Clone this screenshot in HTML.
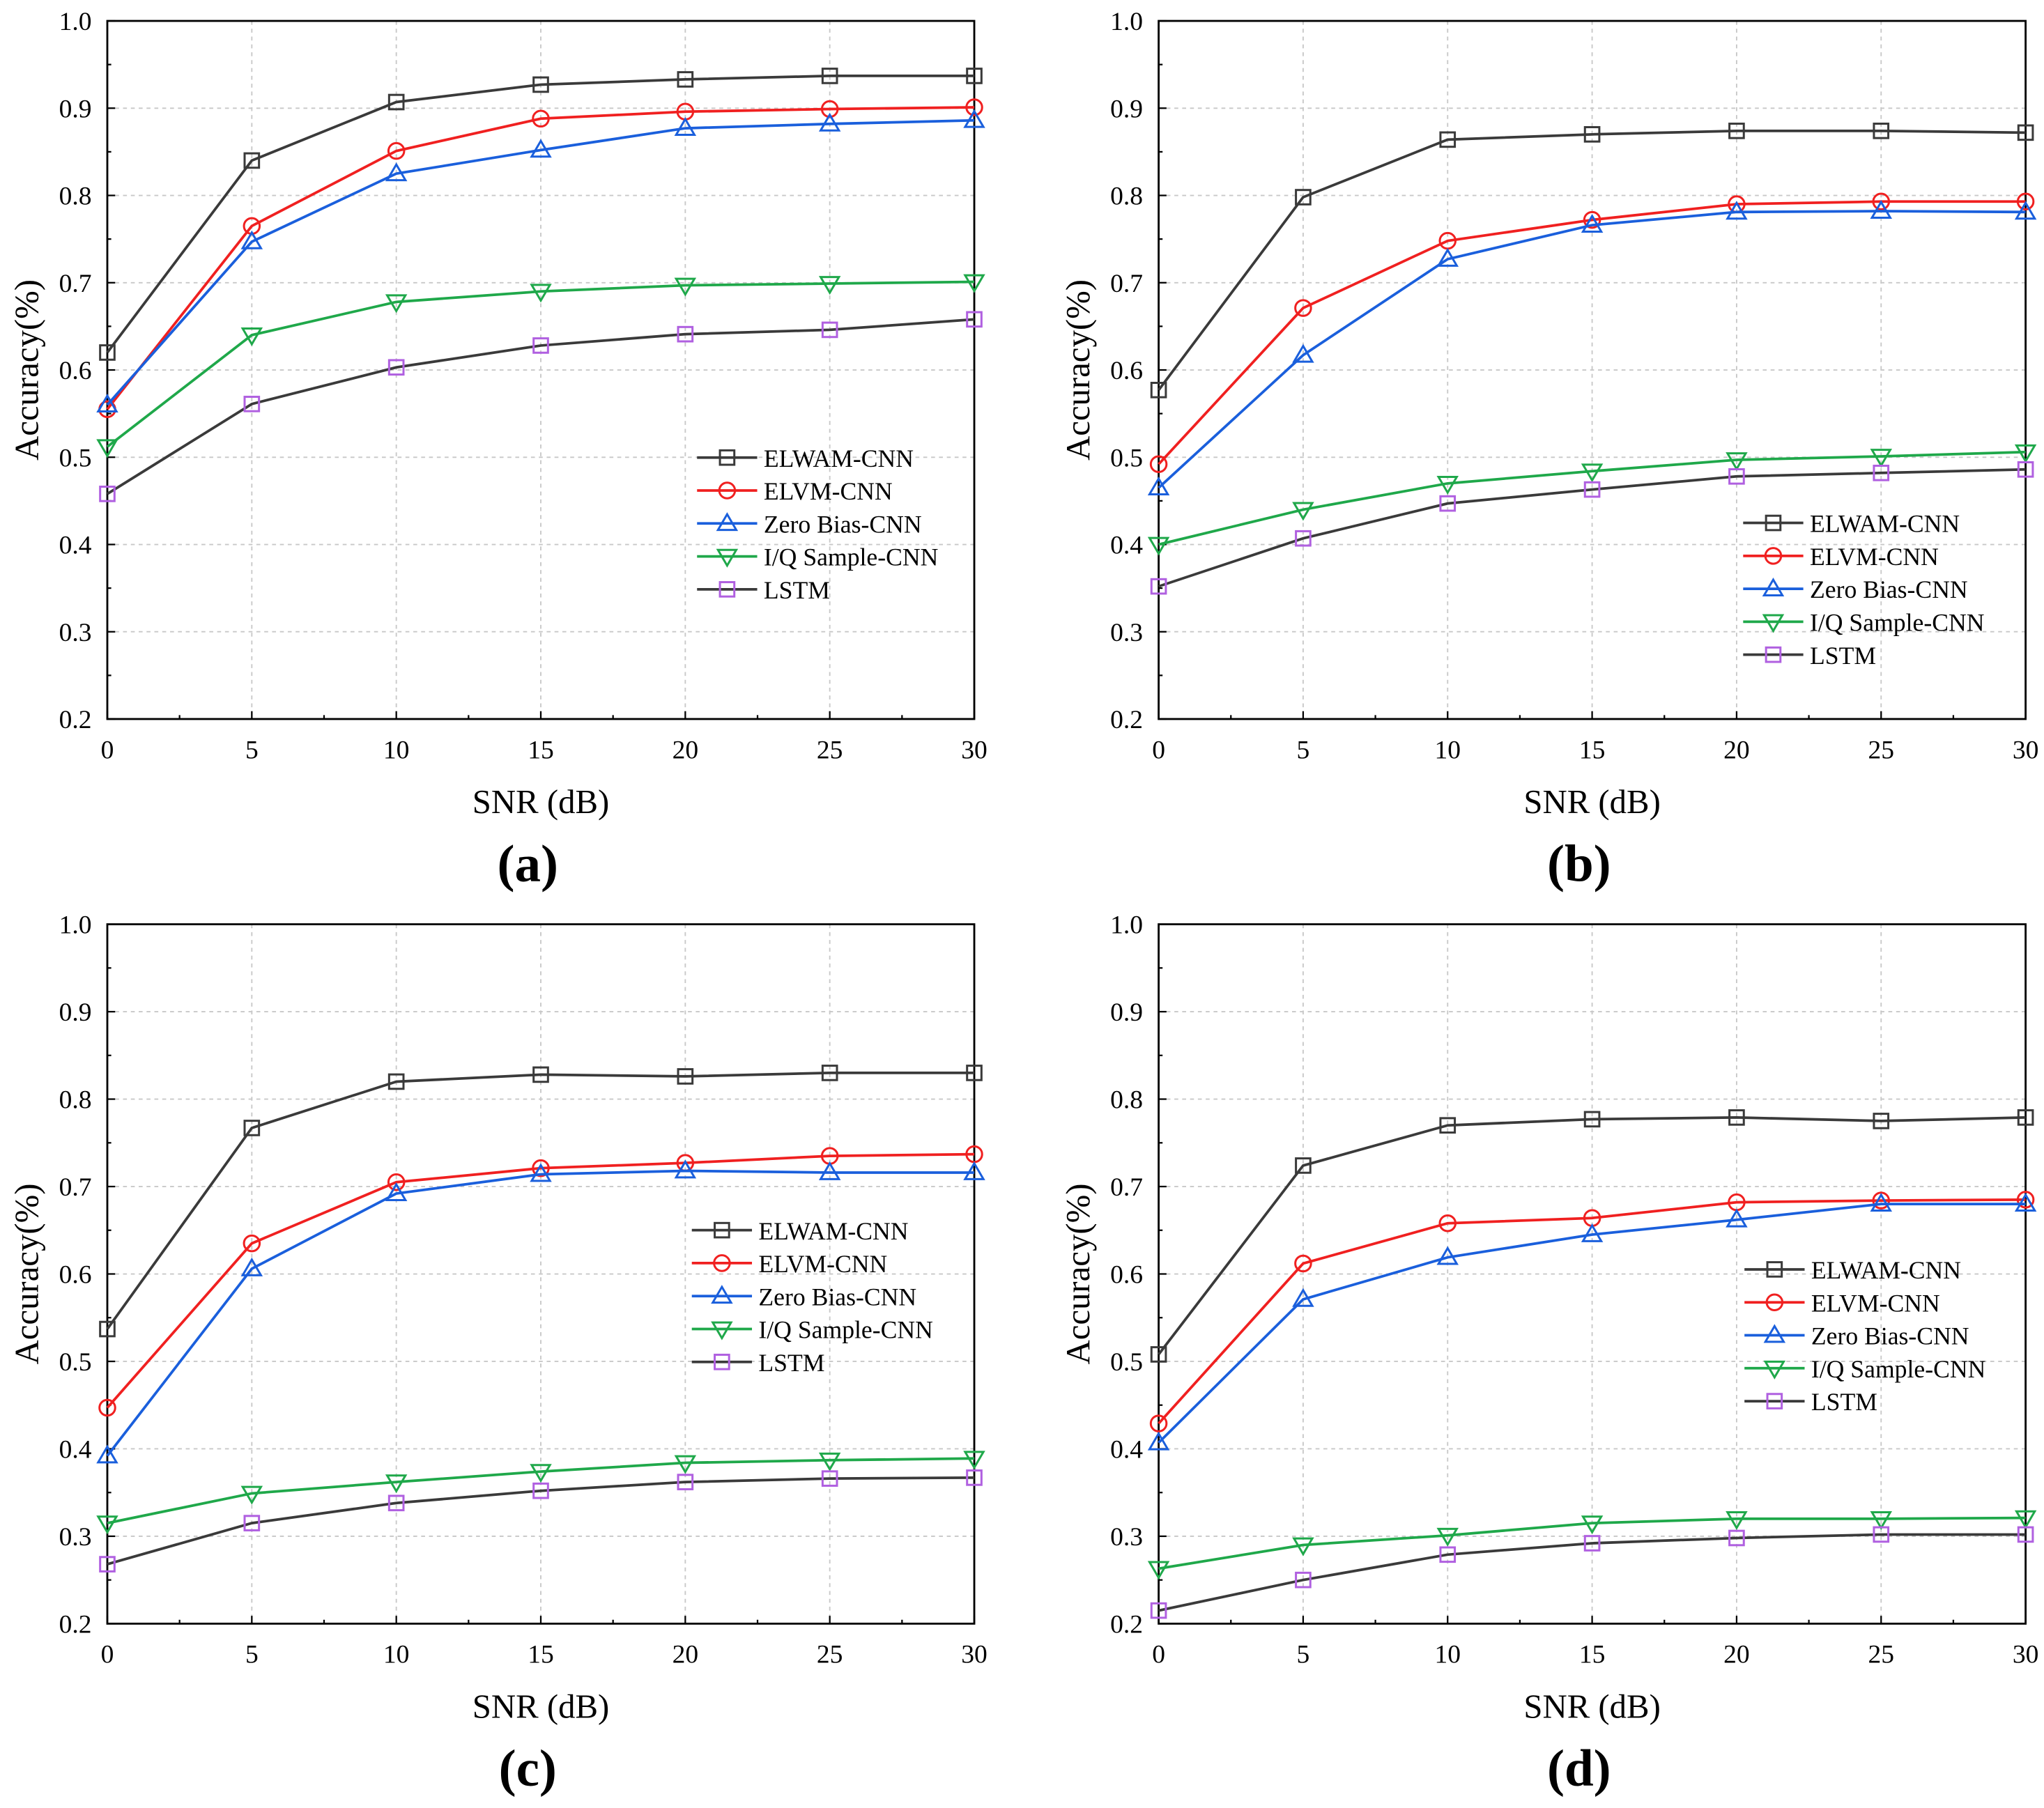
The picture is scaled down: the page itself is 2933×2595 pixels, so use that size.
<!DOCTYPE html>
<html><head><meta charset="utf-8"><style>html,body{margin:0;padding:0;background:#fff}svg{display:block}</style></head>
<body>
<svg id="fig" width="2933" height="2595" viewBox="0 0 1563 1383" xmlns="http://www.w3.org/2000/svg" font-family="'Liberation Serif', serif"></svg>
<script>
const snr=[0,5,10,15,20,25,30];
const yTicks=[0.2,0.3,0.4,0.5,0.6,0.7,0.8,0.9,1.0];
const seriesNames=["ELWAM-CNN","ELVM-CNN","Zero Bias-CNN","I/Q Sample-CNN","LSTM"];
const aELWAM=[.62,.84,.907,.927,.933,.937,.937];
const aELVM=[.555,.765,.851,.888,.896,.899,.901];
const aZB=[.56,.747,.825,.852,.877,.882,.886];
const aIQ=[.512,.64,.678,.69,.697,.699,.701];
const aLSTM=[.458,.561,.603,.628,.641,.646,.658];
const bELWAM=[.577,.798,.864,.87,.874,.874,.872];
const bELVM=[.492,.671,.748,.772,.79,.793,.793];
const bZB=[.465,.617,.727,.766,.781,.782,.781];
const bIQ=[.4,.44,.47,.484,.497,.501,.506];
const bLSTM=[.352,.407,.447,.463,.478,.482,.486];
const cELWAM=[.537,.767,.82,.828,.826,.83,.83];
const cELVM=[.447,.635,.705,.721,.727,.735,.737];
const cZB=[.392,.606,.692,.714,.718,.716,.716];
const cIQ=[.315,.349,.362,.374,.384,.387,.389];
const cLSTM=[.268,.315,.338,.352,.362,.366,.367];
const dELWAM=[.508,.724,.77,.777,.779,.775,.779];
const dELVM=[.429,.612,.658,.664,.682,.684,.685];
const dZB=[.407,.571,.619,.645,.662,.68,.68];
const dIQ=[.263,.29,.301,.315,.32,.32,.321];
const dLSTM=[.215,.25,.279,.292,.298,.302,.302];

const lineColors=["#3a3a3a","#f02020","#1a5fdc","#1fa84a","#3a3a3a"];
const markColors=["#3a3a3a","#f02020","#1a5fdc","#1fa84a","#b060e0"];
const markers=["sq","ci","up","dn","sq"];
const NS="http://www.w3.org/2000/svg";
const svg=document.getElementById("fig");
function el(t,a,p){const e=document.createElementNS(NS,t);for(const k in a)e.setAttribute(k,a[k]);(p||svg).appendChild(e);return e;}

const panels=[
 {id:"a",x0:82,x1:745,yt:16,yb:550,data:[aELWAM,aELVM,aZB,aIQ,aLSTM],lx:533,ly:350},
 {id:"b",x0:886,x1:1549,yt:16,yb:550,data:[bELWAM,bELVM,bZB,bIQ,bLSTM],lx:1333,ly:400},
 {id:"c",x0:82,x1:745,yt:707,yb:1242,data:[cELWAM,cELVM,cZB,cIQ,cLSTM],lx:529,ly:941},
 {id:"d",x0:886,x1:1549,yt:707,yb:1242,data:[dELWAM,dELVM,dZB,dIQ,dLSTM],lx:1334,ly:971}
];
function marker(g,type,x,y,col){
 let m;
 if(type==="sq")m=el("rect",{x:x-5.5,y:y-5.5,width:11,height:11,fill:"none",stroke:col,"stroke-width":1.6},g);
 else if(type==="ci")m=el("circle",{cx:x,cy:y,r:6,fill:"none",stroke:col,"stroke-width":1.6},g);
 else if(type==="up")m=el("polygon",{points:`${x},${y-7} ${x-7},${y+5} ${x+7},${y+5}`,fill:"none",stroke:col,"stroke-width":1.6},g);
 else m=el("polygon",{points:`${x},${y+7} ${x-7},${y-5} ${x+7},${y-5}`,fill:"none",stroke:col,"stroke-width":1.6},g);
 
 
}
panels.forEach(p=>{
 const g=el("g",{});
 
 
 const X=v=>p.x0+(v-0)/30*(p.x1-p.x0);
 const Y=v=>p.yb-(v-0.2)/0.8*(p.yb-p.yt);
 snr.forEach(s=>{if(s>0&&s<30){const l=el("line",{x1:X(s),x2:X(s),y1:p.yt,y2:p.yb,stroke:"#c8c8c8","stroke-width":1,"stroke-dasharray":"3,3"},g);}});
 yTicks.forEach(t=>{if(t>0.21&&t<0.99){const l=el("line",{x1:p.x0,x2:p.x1,y1:Y(t),y2:Y(t),stroke:"#c8c8c8","stroke-width":1,"stroke-dasharray":"3,3"},g);}});
 const fr=el("rect",{x:p.x0,y:p.yt,width:p.x1-p.x0,height:p.yb-p.yt,fill:"none",stroke:"#000","stroke-width":1.5},g);
 
 for(let s=0;s<=30;s+=2.5){const len=(s%5===0)?6:3;el("line",{x1:X(s),x2:X(s),y1:p.yb,y2:p.yb-len,stroke:"#000","stroke-width":1.2},g);}
 for(let t=0.2;t<=1.0001;t+=0.05){const len=(Math.round(t*100)%10===0)?6:3;el("line",{x1:p.x0,x2:p.x0+len,y1:Y(t),y2:Y(t),stroke:"#000","stroke-width":1.2},g);}
 snr.forEach(s=>{const t=el("text",{x:X(s),y:p.yb+30,"text-anchor":"middle","font-size":20},g);t.textContent=s;});
 yTicks.forEach(v=>{const t=el("text",{x:p.x0-12,y:Y(v)+7,"text-anchor":"end","font-size":20},g);t.textContent=v.toFixed(1);});
 const xt=el("text",{x:(p.x0+p.x1)/2,y:p.yb+72,"text-anchor":"middle","font-size":26},g);xt.textContent="SNR (dB)";
 
 const cy=(p.yt+p.yb)/2;
 const yt=el("text",{x:0,y:0,"text-anchor":"middle","font-size":26,transform:`translate(${p.x0-53},${cy}) rotate(-90)`},g);yt.textContent="Accuracy(%)";
 
 const cap=el("text",{x:(p.x0+p.x1)/2-10,y:p.yb+124,"text-anchor":"middle","font-size":40,"font-weight":"bold"},g);cap.textContent="("+p.id+")";
 
 p.data.forEach((arr,i)=>{
  const pts=arr.map((v,j)=>X(snr[j])+","+Y(v)).join(" ");
  const pl=el("polyline",{points:pts,fill:"none",stroke:lineColors[i],"stroke-width":2},g);
  
  
  arr.forEach((v,j)=>marker(g,markers[i],X(snr[j]),Y(v),markColors[i]));
 });
 seriesNames.forEach((n,i)=>{
  const y=p.ly+i*25.2;
  const lg=el("g",{},g);
  
  
  el("line",{x1:p.lx,x2:p.lx+46,y1:y,y2:y,stroke:lineColors[i],"stroke-width":2},lg);
  marker(lg,markers[i],p.lx+23,y,markColors[i]);
  const t=el("text",{x:p.lx+51,y:y+7,"font-size":19},lg);t.textContent=n;
 });
});
</script>
</body></html>
